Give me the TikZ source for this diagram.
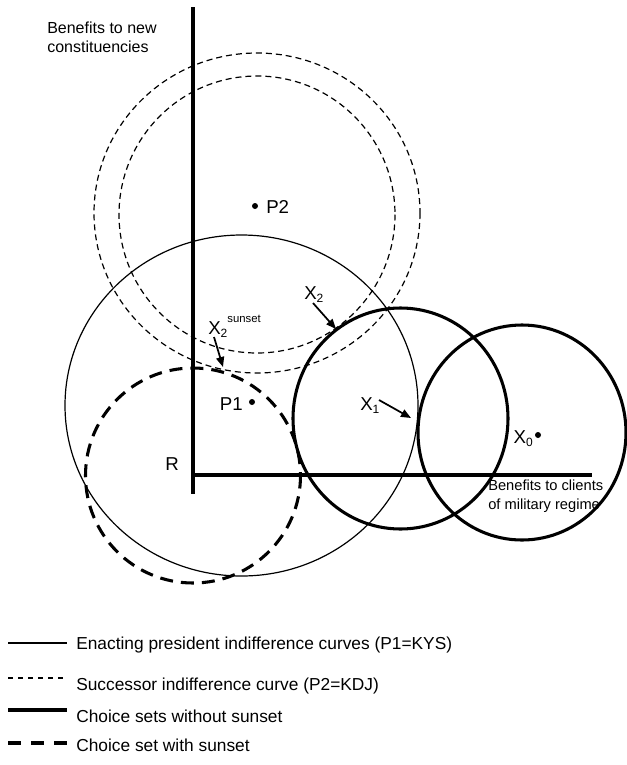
\documentclass[tikz,border=0pt]{standalone}
\usepackage{fontspec}
\setmainfont{Liberation Sans}
\usetikzlibrary{arrows.meta}
\newcommand\lowsub[1]{\raisebox{-2.5pt}{\fontsize{9}{10}\selectfont #1}}
\begin{document}
\begin{tikzpicture}[x=0.75pt,y=-0.75pt,
 thinline/.style={line width=0.9pt},
 thindash/.style={line width=0.9pt,dash pattern=on 4.5pt off 3pt},
 thickline/.style={line width=2.3pt},
 thickdash/.style={line width=2.3pt,dash pattern=on 9.75pt off 6pt},
 axisline/.style={line width=2.3pt},
 ptdot/.style={circle,fill=black,inner sep=0pt,minimum size=4.5pt},
 ptlab/.style={inner sep=0pt,font=\fontsize{14}{16}\selectfont},
 axlab/.style={inner sep=0pt,align=left,anchor=north west},
 leglab/.style={inner sep=0pt,anchor=base west,font=\fontsize{13}{15}\selectfont},
 pointer/.style={line width=1.3pt,-{Triangle[length=7.5pt,width=6pt]}},
]
\useasboundingbox (0,0) rectangle (626,765);

% axes
\coordinate (O) at (193,475);
\coordinate (ytop) at (193,7);
\coordinate (ybot) at (193,494);
\coordinate (xend) at (592,475);
\draw[axisline] (ytop) -- (ybot);
\draw[axisline] (O) -- (xend);

% curves
\draw[thinline] (241.5,405.5) ellipse [x radius=176.5, y radius=170.5];
\draw[thindash] (257,213) ellipse [x radius=163, y radius=160];
\draw[thindash] (257,214.5) ellipse [x radius=138, y radius=138.5];
\draw[thickline] (400.5,418.5) ellipse [x radius=107.5, y radius=110.5];
\draw[thickline] (522,432.5) ellipse [x radius=104, y radius=107.5];
\draw[thickdash] (193,475.5) circle [radius=107.5];

% axis labels
\node[axlab,font=\fontsize{12}{14.25}\selectfont] (ylab) at (47,22) {Benefits to new\\constituencies};
\node[axlab,font=\fontsize{11}{14.25}\selectfont] (xlab) at (488,480) {Benefits to clients\\of military regime};

% points and labels
\node[ptdot] (P2) at (255,206) {};
\node[ptlab,anchor=base west] (P2lab) at (266,213.7) {P2};
\node[ptdot] (P1) at (252,402) {};
\node[ptlab,anchor=base east] (P1lab) at (243,410) {P1};
\node[ptdot] (X0) at (538,435) {};
\node[ptlab,anchor=base east] (X0lab) at (533,443) {X\lowsub{0}};
\node[ptlab,anchor=base] (R) at (172,470) {R};
\node[ptlab,anchor=base west] (X2lab) at (304,299) {X\lowsub{2}};
\node[ptlab,anchor=base west] (X2slab) at (208,334) {X\lowsub{2}\raisebox{9pt}{\fontsize{8.5}{10}\selectfont sunset}};
\node[ptlab,anchor=base west] (X1lab) at (360,410) {X\lowsub{1}};

% pointers
\coordinate (X2s) at (313,303);
\coordinate (X2t) at (336,329);
\coordinate (XSs) at (214,337);
\coordinate (XSt) at (223,367);
\coordinate (X1s) at (379,400);
\coordinate (X1t) at (411,418);
\draw[pointer] (X2s) -- (X2t);
\draw[pointer] (XSs) -- (XSt);
\draw[pointer] (X1s) -- (X1t);

% legend
\coordinate (L1a) at (8,643); \coordinate (L1b) at (67,643);
\coordinate (L2a) at (8,678); \coordinate (L2b) at (67,678);
\coordinate (L3a) at (8,710); \coordinate (L3b) at (67,710);
\coordinate (L4a) at (8,743); \coordinate (L4b) at (67,743);
\draw[thinline] (L1a) -- (L1b);
\draw[line width=0.9pt,dash pattern=on 3.75pt off 3.75pt] (L2a) -- (L2b);
\draw[thickline] (L3a) -- (L3b);
\draw[line width=2.3pt,dash pattern=on 9.75pt off 7.5pt] (L4a) -- (L4b);
\node[leglab] (leg1) at (76,649) {Enacting president indifference curves (P1=KYS)};
\node[leglab] (leg2) at (76,690) {Successor indifference curve (P2=KDJ)};
\node[leglab] (leg3) at (76,722) {Choice sets without sunset};
\node[leglab] (leg4) at (76,751) {Choice set with sunset};
\end{tikzpicture}
\end{document}
